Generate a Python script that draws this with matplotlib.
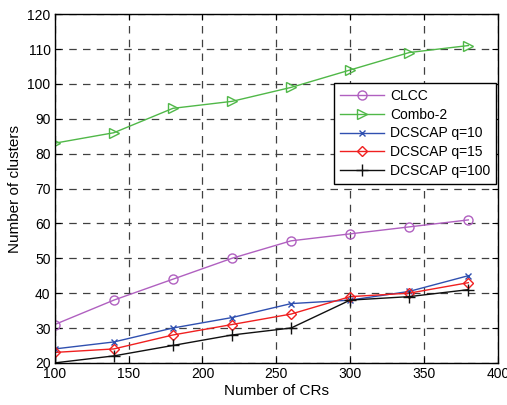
import matplotlib
matplotlib.use("Agg")
import matplotlib.pyplot as plt

x = [100, 140, 180, 220, 260, 300, 340, 380]
clcc = [31, 38, 44, 50, 55, 57, 59, 61]
combo2 = [83, 86, 93, 95, 99, 104, 109, 111]
q10 = [24, 26, 30, 33, 37, 38, 40.5, 45]
q15 = [23, 24, 28, 31, 34, 39, 40, 43]
q100 = [20, 22, 25, 28, 30, 38, 39, 41]
labels = ["CLCC", "Combo-2", "DCSCAP q=10", "DCSCAP q=15", "DCSCAP q=100"]

plt.rcParams['font.family'] = ['Liberation Sans', 'DejaVu Sans']
fig = plt.figure(figsize=(5.07, 4.05), dpi=100)
ax = fig.add_axes([0.108, 0.104, 0.874, 0.861])

ax.plot(x, clcc, color='#b060c0', marker='o', ms=6.5, mfc='none', lw=1, label=labels[0])
ax.plot(x, combo2, color='#50b848', marker='>', ms=7.5, mfc='none', lw=1, label=labels[1])
ax.plot(x, q10, color='#3050b0', marker='x', ms=4, lw=1, label=labels[2])
ax.plot(x, q15, color='#f02020', marker='D', ms=5.5, mfc='none', lw=1, label=labels[3])
ax.plot(x, q100, color='#101010', marker='+', ms=8, lw=1, label=labels[4])

ax.set_xlim(100, 400)
ax.set_ylim(20, 120)
ax.set_xticks(range(100, 401, 50))
ax.set_yticks(range(20, 121, 10))
ax.tick_params(direction='in', top=True, right=True, labelsize=10, length=4, pad=3)
ax.grid(True, color='#404040', linestyle=(0, (6, 5)), lw=0.9)
ax.set_xlabel("Number of CRs", fontsize=11, labelpad=2)
ax.set_ylabel("Number of clusters", fontsize=11, labelpad=4)
for s in ax.spines.values():
    s.set_linewidth(1)

leg = ax.legend(loc='upper right', bbox_to_anchor=(0.995, 0.802), borderaxespad=0,
                fontsize=10, fancybox=False, edgecolor='black', framealpha=1,
                borderpad=0.4, labelspacing=0.35, handlelength=3.2, handletextpad=0.4)
leg.get_frame().set_linewidth(1)

fig.savefig("out.png", dpi=100)
